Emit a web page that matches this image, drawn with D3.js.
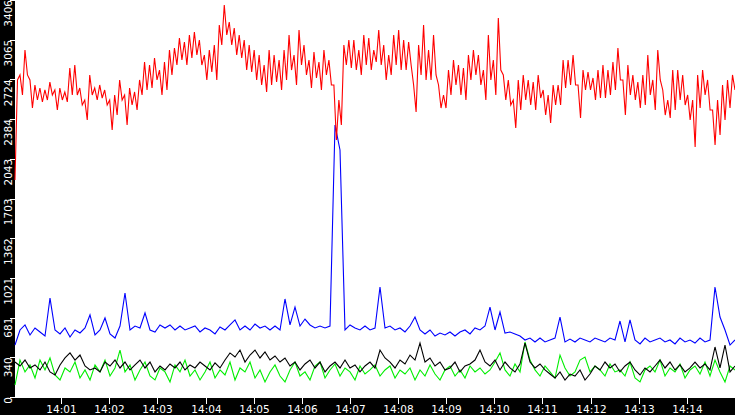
<!DOCTYPE html>
<html><head><meta charset="utf-8">
<script src="https://cdn.jsdelivr.net/npm/d3@7"></script>
<style>body{margin:0;background:#000}svg{display:block}</style>
</head><body><svg id="c" width="735" height="415"></svg>
<script>
const yTicks = [0,340.6,681.2,1021.8,1362.4,1703,2043.6,2384.2,2724.8,3065.4,3406];
const yTickLabels = ["0","340","681","1021","1362","1703","2043","2384","2724","3065","3406"];
const xTickLabels = ["14:01","14:02","14:03","14:04","14:05","14:06","14:07","14:08","14:09","14:10","14:11","14:12","14:13","14:14"];
const startMin = 0.04, endMin = 15.0; // minutes after 14:00

const red = [1862,2720,2763,2591,2977,2763,2720,2479,2677,2548,2651,2531,2634,2548,2702,2591,2634,2462,2651,2548,2617,2531,2823,2591,2848,2591,2651,2505,2548,2376,2763,2591,2651,2548,2677,2565,2634,2505,2548,2291,2591,2419,2720,2548,2591,2333,2651,2505,2617,2462,2720,2591,2874,2634,2848,2651,2908,2720,2805,2591,2874,2634,2977,2763,2994,2848,3080,2891,3046,2848,3106,2908,3131,2934,3063,2848,2934,2720,2977,2788,3020,2720,3191,3020,3363,3106,3217,3020,3166,2934,3106,2908,3063,2805,3020,2788,2977,2720,2934,2677,2848,2617,2977,2677,2934,2702,2891,2634,2977,2720,3106,2805,2934,2677,3149,2848,3020,2763,2891,2651,2960,2737,2874,2634,2977,2763,2891,2677,2677,2205,2548,2333,3020,2848,3063,2823,3063,2805,2977,2763,3106,2848,3080,2805,2977,2874,
3149,2848,3020,2720,2934,2763,3106,2848,3149,2805,3063,2805,3046,2848,2677,2445,3020,2763,3191,2720,2977,2720,3106,2763,2677,2479,2591,2479,2805,2591,2891,2677,2848,2591,2823,2548,2934,2720,2977,2763,2934,2677,2805,2548,3106,2720,2891,2591,3252,2805,2763,2548,2720,2505,2548,2308,2720,2462,2763,2548,2720,2505,2702,2462,2763,2565,2634,2419,2591,2351,2677,2505,2677,2505,2891,2651,2891,2677,2934,2677,2677,2394,2805,2634,2788,2634,2737,2548,2805,2565,2848,2565,2805,2591,2874,2634,2994,2720,2720,2419,2848,2591,2763,2548,2702,2479,2763,2505,2934,2591,2720,2462,2977,2720,2634,2419,2548,2394,2805,2462,2805,2548,2763,2505,2591,2376,2548,2145,2763,2479,2805,2591,2720,2462,2462,2162,2548,2248,2677,2376,2720,2479,2763,2634];
const blue = [446,575,618,532,592,558,523,849,575,541,592,515,575,549,592,704,532,575,678,541,506,609,892,575,609,592,721,575,558,618,592,618,575,609,575,592,609,558,592,575,541,601,575,618,661,575,609,575,626,592,609,575,609,575,841,618,772,609,669,618,592,609,592,609,2334,2119,575,618,592,575,609,575,592,
944,592,609,575,592,558,609,686,575,541,575,523,549,532,558,523,558,575,541,592,575,609,772,575,729,549,558,541,523,489,506,472,506,472,489,506,686,472,497,472,506,489,472,506,489,472,506,489,652,472,661,489,455,506,472,489,506,472,489,455,506,472,489,463,506,472,489,944,686,575,446,489];
const black = [300,266,317,249,275,232,300,215,189,275,335,378,317,360,266,232,249,215,300,266,317,249,300,232,275,317,249,300,215,266,232,283,249,300,232,275,249,300,266,232,292,249,317,378,343,403,300,360,403,335,386,317,352,300,335,266,300,232,283,317,249,300,215,266,300,249,317,249,275,215,266,300,249,
403,335,300,249,317,283,360,317,463,300,335,266,300,232,249,300,215,266,283,317,403,300,266,317,232,300,249,215,283,463,300,249,283,232,197,163,215,146,197,180,232,146,197,266,232,300,249,283,215,266,300,232,189,249,215,266,317,249,300,232,275,215,249,300,249,283,232,429,249,446,215,266];
const green = [103,317,215,275,163,317,232,335,189,146,249,215,300,163,232,146,275,215,317,180,249,403,215,275,146,232,300,180,146,249,215,129,275,215,317,180,232,146,215,300,163,232,189,300,146,249,215,300,163,232,129,215,275,180,129,232,300,180,215,146,266,300,163,232,283,180,249,215,146,266,197,232,275,
180,232,266,163,232,197,249,146,232,180,275,197,146,232,266,180,232,163,266,215,249,197,232,300,378,232,180,283,215,472,317,232,180,266,215,163,360,249,180,215,317,343,215,266,232,180,283,215,232,180,300,163,129,232,266,215,317,180,249,215,283,163,232,266,197,300,180,317,215,129,266,232];

const W=735,H=415,L=15,B=397;
const svg=d3.select("#c");
svg.append("rect").attr("width",W).attr("height",H).attr("fill","#000");
svg.append("rect").attr("x",L).attr("y",0).attr("width",W-L).attr("height",B+1).attr("fill","#fff");
const x=d3.scaleLinear().domain([startMin,endMin]).range([L,W]);
const y=d3.scaleLinear().domain([0,3406]).range([B,0]);
const g=svg.append("g");
function draw(arr,color){
  const n=arr.length;
  const line=d3.line().x((d,i)=>x(startMin+(endMin-startMin)*i/(n-1))).y(d=>y(d)).curve(d3.curveLinear);
  g.append("path").datum(arr).attr("d",line).attr("fill","none").attr("stroke",color).attr("stroke-width",1.1);
}
draw(green,"#00ee00");
draw(black,"#000");
draw(blue,"#0000ff");
draw(red,"#ff0000");
const ya=svg.append("g");
yTicks.forEach((t,i)=>{
  const yy=Math.round(y(t))+0.5;
  ya.append("line").attr("x1",10).attr("x2",15).attr("y1",yy).attr("y2",yy).attr("stroke","#fff");
  ya.append("text").attr("transform",`translate(12,${Math.max(y(t),0)}) rotate(-90)`)
    .attr("text-anchor","end").attr("fill","#fff").attr("font-family","DejaVu Sans, sans-serif").attr("font-size",10.5)
    .text(yTickLabels[i]);
});
const xa=svg.append("g");
xTickLabels.forEach((lab,i)=>{
  const xx=Math.round(x(i+1))+0.5;
  xa.append("line").attr("x1",xx).attr("x2",xx).attr("y1",398).attr("y2",404).attr("stroke","#fff");
  xa.append("text").attr("x",xx).attr("y",413).attr("text-anchor","middle").attr("fill","#fff")
    .attr("font-family","DejaVu Sans, sans-serif").attr("font-size",10.5).text(lab);
});
</script></body></html>
